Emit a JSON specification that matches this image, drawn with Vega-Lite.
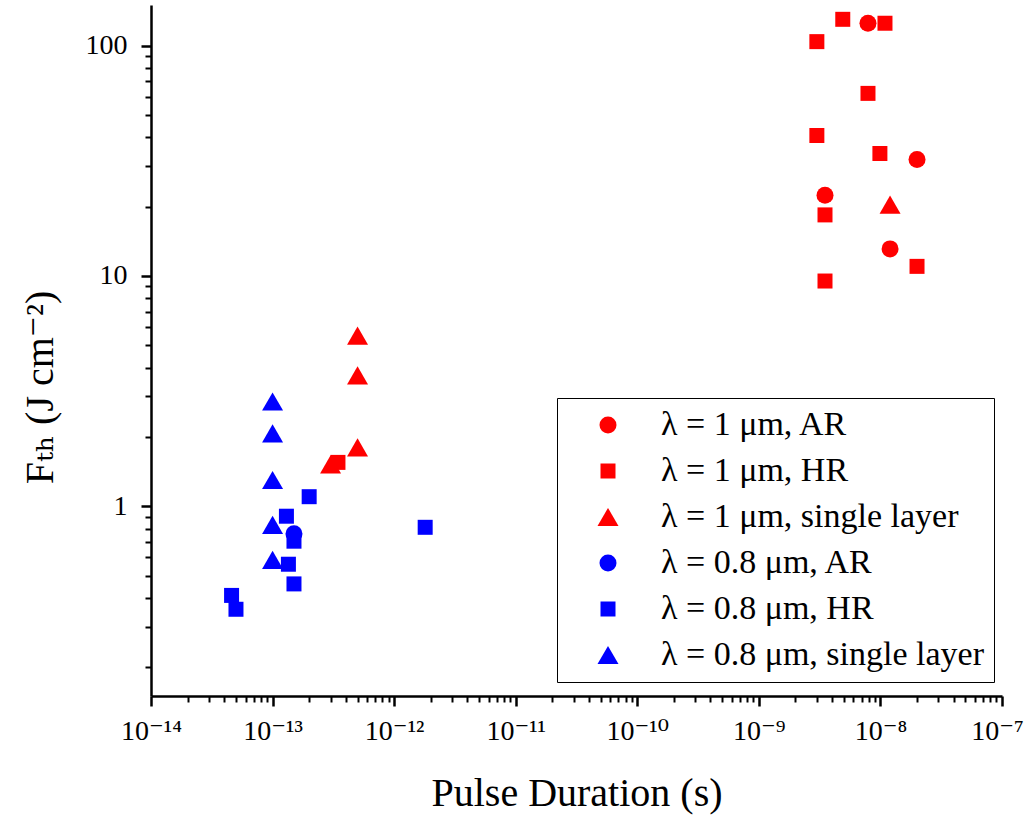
{
  "$schema": "https://vega.github.io/schema/vega-lite/v6.json",
  "width": 851,
  "height": 691,
  "autosize": "none",
  "padding": {"left": 151, "top": 5, "right": 22, "bottom": 121},
  "background": "white",
  "config": {
    "view": {"stroke": null},
    "font": "Liberation Serif, DejaVu Serif, serif",
    "axis": {"grid": false, "domainColor": "black", "tickColor": "black", "labelColor": "black", "titleColor": "black", "labelFont": "Liberation Serif, DejaVu Serif, serif", "titleFont": "Liberation Serif, DejaVu Serif, serif", "titleFontWeight": "normal"},
    "legend": {"labelFont": "Liberation Serif, DejaVu Serif, serif", "labelFontSize": 34, "labelColor": "black", "labelLimit": 600}
  },
  "data": {
    "values": [
      {"series": "λ = 1 μm, AR", "t": 7.9e-9, "f": 125},
      {"series": "λ = 1 μm, AR", "t": 2.0e-8, "f": 32},
      {"series": "λ = 1 μm, AR", "t": 3.5e-9, "f": 22.4},
      {"series": "λ = 1 μm, AR", "t": 1.2e-8, "f": 13.1},
      {"series": "λ = 1 μm, HR", "t": 4.9e-9, "f": 130},
      {"series": "λ = 1 μm, HR", "t": 1.09e-8, "f": 125},
      {"series": "λ = 1 μm, HR", "t": 3.0e-9, "f": 104},
      {"series": "λ = 1 μm, HR", "t": 7.9e-9, "f": 62},
      {"series": "λ = 1 μm, HR", "t": 3.0e-9, "f": 40.7},
      {"series": "λ = 1 μm, HR", "t": 9.9e-9, "f": 34},
      {"series": "λ = 1 μm, HR", "t": 3.5e-9, "f": 18.4},
      {"series": "λ = 1 μm, HR", "t": 2.0e-8, "f": 11},
      {"series": "λ = 1 μm, HR", "t": 3.5e-9, "f": 9.5},
      {"series": "λ = 1 μm, HR", "t": 3.45e-13, "f": 1.55},
      {"series": "λ = 1 μm, single layer", "t": 5e-13, "f": 5.5},
      {"series": "λ = 1 μm, single layer", "t": 5e-13, "f": 3.7},
      {"series": "λ = 1 μm, single layer", "t": 5e-13, "f": 1.8},
      {"series": "λ = 1 μm, single layer", "t": 3e-13, "f": 1.52},
      {"series": "λ = 1 μm, single layer", "t": 1.2e-8, "f": 20.4},
      {"series": "λ = 0.8 μm, AR", "t": 1.5e-13, "f": 0.76},
      {"series": "λ = 0.8 μm, HR", "t": 2.0e-13, "f": 1.1},
      {"series": "λ = 0.8 μm, HR", "t": 1.3e-13, "f": 0.905},
      {"series": "λ = 0.8 μm, HR", "t": 1.5e-13, "f": 0.705},
      {"series": "λ = 0.8 μm, HR", "t": 1.8e-12, "f": 0.81},
      {"series": "λ = 0.8 μm, HR", "t": 1.35e-13, "f": 0.56},
      {"series": "λ = 0.8 μm, HR", "t": 1.5e-13, "f": 0.46},
      {"series": "λ = 0.8 μm, HR", "t": 4.6e-14, "f": 0.41},
      {"series": "λ = 0.8 μm, HR", "t": 5.0e-14, "f": 0.357},
      {"series": "λ = 0.8 μm, single layer", "t": 1e-13, "f": 2.85},
      {"series": "λ = 0.8 μm, single layer", "t": 1e-13, "f": 2.07},
      {"series": "λ = 0.8 μm, single layer", "t": 1e-13, "f": 1.3},
      {"series": "λ = 0.8 μm, single layer", "t": 1e-13, "f": 0.83},
      {"series": "λ = 0.8 μm, single layer", "t": 1e-13, "f": 0.585}
    ]
  },
  "layer": [
    {
      "mark": {"type": "point", "opacity": 0},
      "encoding": {
        "x": {"field": "t", "type": "quantitative",
          "scale": {"type": "log", "domain": [1e-14, 1e-7], "nice": false, "zero": false},
          "axis": {"orient": "bottom", "values": [2e-14,3e-14,4e-14,5e-14,6e-14,7e-14,8e-14,9e-14,2e-13,3e-13,4e-13,5e-13,6e-13,7e-13,8e-13,9e-13,2e-12,3e-12,4e-12,5e-12,6e-12,7e-12,8e-12,9e-12,2e-11,3e-11,4e-11,5e-11,6e-11,7e-11,8e-11,9e-11,2e-10,3e-10,4e-10,5e-10,6e-10,7e-10,8e-10,9e-10,2e-9,3e-9,4e-9,5e-9,6e-9,7e-9,8e-9,9e-9,2e-8,3e-8,4e-8,5e-8,6e-8,7e-8,8e-8,9e-8],
            "labels": false, "domain": false, "title": null, "tickSize": 6, "tickWidth": 2}},
        "y": {"field": "f", "type": "quantitative",
          "scale": {"type": "log", "domain": [0.15, 150], "nice": false, "zero": false},
          "axis": {"orient": "left", "values": [0.2,0.3,0.4,0.5,0.6,0.7,0.8,0.9,2,3,4,5,6,7,8,9,20,30,40,50,60,70,80,90],
            "labels": false, "domain": false, "title": null, "tickSize": 6, "tickWidth": 2}}
      }
    },
    {
      "mark": {"type": "point", "filled": true, "opacity": 1},
      "encoding": {
        "x": {"field": "t", "type": "quantitative",
          "scale": {"type": "log", "domain": [1e-14, 1e-7], "nice": false, "zero": false},
          "axis": {"orient": "bottom", "values": [1e-14,1e-13,1e-12,1e-11,1e-10,1e-9,1e-8,1e-7],
            "labelExpr": "'10⁻' + ['','','','','','','','⁷','⁸','⁹','¹⁰','¹¹','¹²','¹³','¹⁴'][round(-log(datum.value)/LN10)]",
            "labelFontSize": 28, "labelPadding": 11, "labelFlush": false, "labelOverlap": false,
            "labelOffset": {"condition": {"test": "datum.value > 5e-8", "value": -5}, "value": 0},
            "tickSize": 10, "tickWidth": 2.5, "domainWidth": 2.5,
            "title": "Pulse Duration (s)", "titleFontSize": 40, "titleY": 109, "titleBaseline": "alphabetic"}},
        "y": {"field": "f", "type": "quantitative",
          "scale": {"type": "log", "domain": [0.15, 150], "nice": false, "zero": false},
          "axis": {"orient": "left", "values": [1, 10, 100], "format": "d",
            "labelFontSize": 28, "labelPadding": 14, "labelOverlap": false, "labelFlush": false,
            "tickSize": 10, "tickWidth": 2.5, "domainWidth": 2.5,
            "title": "Fₜₕ (J cm⁻²)", "titleFontSize": 40, "titleX": -111, "titleY": 382, "titleAngle": -90, "titleAlign": "center", "titleBaseline": "middle"}},
        "color": {"field": "series", "type": "nominal",
          "scale": {"domain": ["λ = 1 μm, AR", "λ = 1 μm, HR", "λ = 1 μm, single layer", "λ = 0.8 μm, AR", "λ = 0.8 μm, HR", "λ = 0.8 μm, single layer"],
            "range": ["#ff0000", "#ff0000", "#ff0000", "#0000ff", "#0000ff", "#0000ff"]},
          "legend": {"title": null, "orient": "none", "legendX": 406, "legendY": 393, "strokeColor": "black", "fillColor": "white", "padding": 10, "labelFont": "Liberation Serif, DejaVu Serif, serif", "labelFontSize": 34, "labelColor": "black", "rowPadding": 12, "symbolOffset": 24, "labelOffset": 36, "labelLimit": 600}},
        "shape": {"field": "series", "type": "nominal",
          "scale": {"domain": ["λ = 1 μm, AR", "λ = 1 μm, HR", "λ = 1 μm, single layer", "λ = 0.8 μm, AR", "λ = 0.8 μm, HR", "λ = 0.8 μm, single layer"],
            "range": ["circle", "square", "triangle-up", "circle", "square", "triangle-up"]},
          "legend": {"title": null, "orient": "none", "legendX": 406, "legendY": 393, "strokeColor": "black", "fillColor": "white", "padding": 10, "labelFont": "Liberation Serif, DejaVu Serif, serif", "labelFontSize": 34, "labelColor": "black", "rowPadding": 12, "symbolOffset": 24, "labelOffset": 36, "labelLimit": 600}},
        "size": {"field": "series", "type": "nominal",
          "scale": {"type": "ordinal", "domain": ["λ = 1 μm, AR", "λ = 1 μm, HR", "λ = 1 μm, single layer", "λ = 0.8 μm, AR", "λ = 0.8 μm, HR", "λ = 0.8 μm, single layer"],
            "range": [289, 225, 440, 289, 225, 440]},
          "legend": {"title": null, "orient": "none", "legendX": 406, "legendY": 393, "strokeColor": "black", "fillColor": "white", "padding": 10, "labelFont": "Liberation Serif, DejaVu Serif, serif", "labelFontSize": 34, "labelColor": "black", "rowPadding": 12, "symbolOffset": 24, "labelOffset": 36, "labelLimit": 600}}
      }
    }
  ],
  "resolve": {"axis": {"x": "independent", "y": "independent"}}
}
